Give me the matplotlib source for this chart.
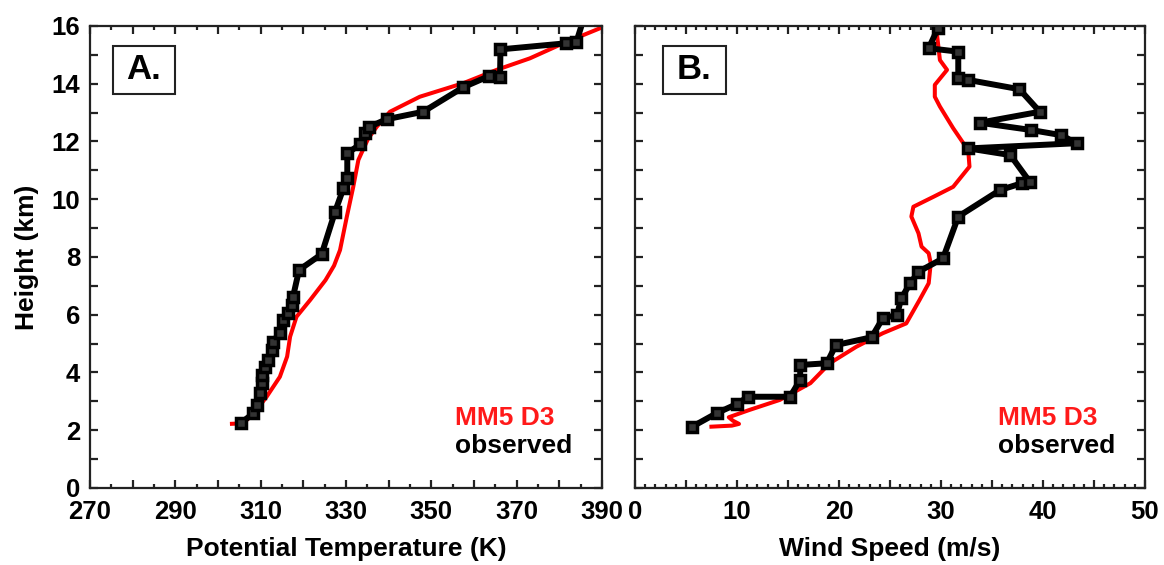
import numpy as np
import matplotlib
matplotlib.use('Agg')
import matplotlib.pyplot as plt
from matplotlib.ticker import MultipleLocator, FuncFormatter
from matplotlib.patches import Rectangle

plt.rcParams['font.family'] = ['Liberation Sans', 'DejaVu Sans']
plt.rcParams['font.weight'] = 'bold'
plt.rcParams['axes.labelweight'] = 'bold'

# observed sounding: potential temperature (K) vs height (km)
obs_theta_h = [2.24, 2.59, 2.87, 3.28, 3.62, 3.91, 4.20, 4.43, 4.78, 5.07, 5.36, 5.82,
               6.05, 6.34, 6.63, 7.55, 8.10, 9.55, 10.38, 10.73, 11.59, 11.90, 12.28,
               12.51, 12.77, 13.03, 13.88, 14.27, 14.22, 15.19, 15.40, 15.45, 16.3]
obs_theta = [305.3, 308.3, 309.2, 309.8, 310.2, 310.2, 311.0, 311.8, 312.6, 312.8, 314.5, 315.3,
             316.5, 317.3, 317.6, 319.0, 324.3, 327.4, 329.4, 330.3, 330.3, 333.3, 334.5,
             335.5, 339.5, 348.1, 357.5, 363.6, 366.1, 366.2, 381.5, 384.0, 385.8]

# MM5 D3 potential temperature
mm5_theta_h = [2.22, 2.24, 2.60, 3.16, 3.85, 4.55, 5.24, 5.93, 6.51, 7.20, 7.70, 8.24,
               9.40, 10.43, 11.36, 11.59, 12.10, 12.51, 13.03, 13.55, 14.02, 14.48, 14.88,
               15.40, 15.92, 16.0]
mm5_theta = [302.8, 305.9, 308.5, 311.4, 314.5, 316.2, 316.9, 318.4, 321.6, 325.2, 327.2, 328.6,
             330.2, 331.7, 332.9, 333.6, 335.2, 337.2, 340.3, 347.3, 357.5, 365.3, 373.1,
             380.9, 389.5, 390.5]

# observed wind speed (m/s) vs height (km)
obs_ws_h = [2.12, 2.59, 2.91, 3.16, 3.16, 3.74, 4.26, 4.32, 4.95, 5.22, 5.88, 5.99,
            6.57, 7.09, 7.49, 7.95, 9.40, 10.32, 10.55, 10.61, 11.53, 11.76, 11.94,
            12.22, 12.40, 12.65, 13.03, 13.81, 14.13, 14.19, 15.11, 15.23, 15.92, 16.3]
obs_ws = [5.6, 8.0, 10.0, 11.1, 15.2, 16.2, 16.2, 18.8, 19.7, 23.2, 24.3, 25.7,
          26.1, 27.0, 27.8, 30.2, 31.7, 35.8, 37.9, 38.7, 36.8, 32.7, 43.3,
          41.8, 38.8, 33.8, 39.7, 37.7, 32.7, 31.7, 31.7, 28.8, 29.7, 30.0]

# MM5 D3 wind speed
mm5_ws_h = [2.12, 2.16, 2.22, 2.33, 2.45, 2.55, 2.70, 3.05, 3.63, 4.32, 4.89, 5.36,
            5.70, 6.51, 7.09, 7.78, 8.13, 8.36, 8.82, 9.40, 9.74, 10.09, 10.43,
            11.13, 11.59, 11.94, 12.46, 13.21, 13.55, 13.96, 14.48, 14.82, 15.75, 16.0]
mm5_ws = [7.3, 9.5, 10.2, 9.6, 9.2, 10.0, 11.2, 14.2, 17.2, 19.1, 21.7, 24.3,
          26.6, 27.9, 28.8, 29.0, 28.8, 28.1, 27.8, 27.1, 27.3, 29.3, 31.2,
          32.8, 32.7, 32.2, 31.2, 29.9, 29.4, 29.4, 30.6, 29.9, 29.6, 29.4]

fig = plt.figure(figsize=(11.64, 5.65), dpi=100)
ax1 = fig.add_axes([0.0773, 0.1363, 0.4399, 0.8177])
ax2 = fig.add_axes([0.5455, 0.1363, 0.4381, 0.8177])

mk = dict(marker='s', markersize=7, markerfacecolor='#333333',
          markeredgecolor='black', markeredgewidth=2.5)

ax1.plot(mm5_theta, mm5_theta_h, color='#ff0000', lw=2.9, solid_capstyle='butt')
ax1.plot(obs_theta, obs_theta_h, color='black', lw=4.3, **mk)
ax2.plot(mm5_ws, mm5_ws_h, color='#ff0000', lw=2.9, solid_capstyle='butt')
ax2.plot(obs_ws, obs_ws_h, color='black', lw=4.3, **mk)

ax1.set_xlim(270, 390)
ax2.set_xlim(0, 50)
for ax in (ax1, ax2):
    ax.set_ylim(0, 16)
    ax.yaxis.set_major_locator(MultipleLocator(2))
    ax.yaxis.set_minor_locator(MultipleLocator(1))
    for s in ax.spines.values():
        s.set_linewidth(1.6)
        s.set_color('#222222')
    ax.tick_params(which='both', direction='in', top=True, right=True,
                   width=1.6, color='#222222', labelsize=18.5)
    ax.tick_params(axis='y', which='both', length=5.5, pad=7)
    ax.tick_params(axis='x', which='major', length=5.5, pad=9)
    ax.tick_params(axis='x', which='minor', length=3)

ax1.xaxis.set_major_locator(MultipleLocator(10))
ax1.xaxis.set_minor_locator(MultipleLocator(5))
ax1.xaxis.set_major_formatter(FuncFormatter(lambda v, p: f'{v:.0f}' if round(v - 270) % 20 == 0 else ''))
ax2.xaxis.set_major_locator(MultipleLocator(5))
ax2.xaxis.set_minor_locator(MultipleLocator(1))
ax2.xaxis.set_major_formatter(FuncFormatter(lambda v, p: f'{v:.0f}' if round(v) % 10 == 0 else ''))
ax2.tick_params(axis='y', labelleft=False)

ax1.set_xlabel('Potential Temperature (K)', fontsize=19, labelpad=9)
ax2.set_xlabel('Wind Speed (m/s)', fontsize=19, labelpad=9)
ax1.set_ylabel('Height (km)', fontsize=19, labelpad=9)

# panel letters
for ax, lab, x0, x1 in ((ax1, 'A.', 0.045, 0.166), (ax2, 'B.', 0.055, 0.178)):
    ax.add_patch(Rectangle((x0, 0.853), x1 - x0, 0.104, transform=ax.transAxes,
                           fill=False, edgecolor='#222222', lw=1.5))
    ax.text((x0 + x1) / 2, 0.905, lab, transform=ax.transAxes, fontsize=25,
            ha='center', va='center')
    ax.text(0.712, 0.136, 'MM5 D3', transform=ax.transAxes, fontsize=19,
            color='#ff1a1a', ha='left', va='baseline')
    ax.text(0.712, 0.076, 'observed', transform=ax.transAxes, fontsize=19,
            color='black', ha='left', va='baseline')

plt.savefig('out.png', dpi=100)
